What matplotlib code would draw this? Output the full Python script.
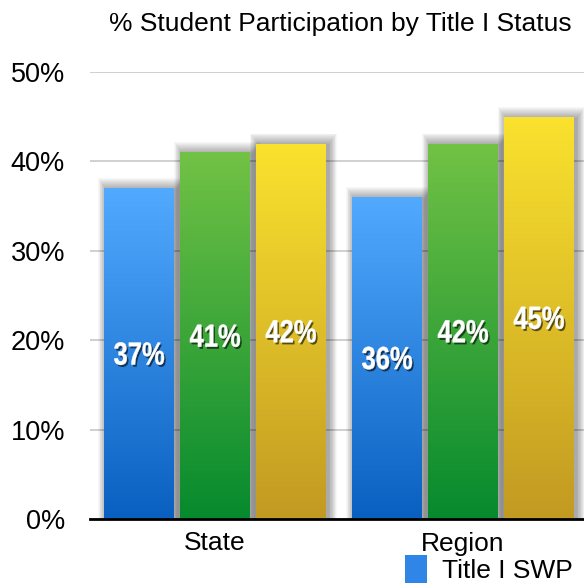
import numpy as np
import matplotlib
matplotlib.use("Agg")
import matplotlib.pyplot as plt
from matplotlib.colors import LinearSegmentedColormap
from matplotlib.patches import Rectangle, PathPatch
from matplotlib.textpath import TextPath
from matplotlib.font_manager import FontProperties
from matplotlib.transforms import Affine2D, ScaledTranslation
import matplotlib.patheffects as pe

plt.rcParams['font.family'] = ['Liberation Sans', 'DejaVu Sans']

groups = ["State", "Region"]
series = ["Title I SWP", "Title I TAS", "Non-Title I"]
values = [[37, 36], [41, 42], [42, 45]]
labels = [["37%", "36%"], ["41%", "42%"], ["42%", "45%"]]
yticks = [0, 10, 20, 30, 40, 50]
ytick_labels = ["0%", "10%", "20%", "30%", "40%", "50%"]

# top / bottom colours of the gradients
grads = [("#52aaff", "#0a60c0"), ("#72c245", "#068a2e"), ("#fae22e", "#c29a22")]

fig = plt.figure(figsize=(5.84, 5.84), dpi=100)
ax = fig.add_axes([90 / 584, 1 - 519 / 584, 1 - 90 / 584, (519 - 72) / 584])

x = np.arange(len(groups))
width = 0.282
offsets = [-0.306, 0.0, 0.306]

grad = np.linspace(1, 0, 256).reshape(-1, 1)
bars_all = []
for i in range(len(series)):
    bars = ax.bar(x + offsets[i], values[i], width, color=grads[i][1], zorder=3,
                  label=series[i], linewidth=0)
    bars_all.append(bars)
    cmap = LinearSegmentedColormap.from_list("g%d" % i, [grads[i][1], grads[i][0]])
    for b in bars:
        bx, bw, bh = b.get_x(), b.get_width(), b.get_height()
        # soft drop shadow
        for k in range(1, 13):
            dx = k * 0.7 / 248
            dy = k * 0.11
            ax.add_patch(Rectangle((bx - dx + 2.5 / 248, 0), bw + 2 * dx,
                                   bh + dy - 0.2, facecolor="black",
                                   alpha=0.03, linewidth=0, zorder=2))
        im = ax.imshow(grad, extent=[bx, bx + bw, 0, bh], aspect="auto",
                       cmap=cmap, vmin=0, vmax=1, zorder=3.5)
        im.set_clip_path(b)

ax.set_xlim(-0.504, 1.488)
ax.set_ylim(0, 50)

# condensed bold value labels
lab_font = FontProperties(family="Liberation Sans", weight="bold")
for i in range(len(series)):
    for j, b in enumerate(bars_all[i]):
        tp = TextPath((0, 0), labels[i][j], size=23, prop=lab_font)
        ext = tp.get_extents()
        cx = (ext.x0 + ext.x1) / 2
        cy = (ext.y0 + ext.y1) / 2
        tr = (Affine2D().translate(-cx, -cy).scale(0.8, 1.0).scale(fig.dpi / 72)
              + ScaledTranslation(b.get_x() + b.get_width() / 2, values[i][j] / 2,
                                  ax.transData))
        ax.add_patch(PathPatch(tp, transform=tr, facecolor="white", edgecolor="white",
                               linewidth=0.3, zorder=5,
                               path_effects=[pe.withSimplePatchShadow(offset=(1.2, -1.5),
                                                                      shadow_rgbFace="black",
                                                                      alpha=0.6)]))

ax.set_yticks(yticks)
ax.set_yticklabels(ytick_labels, fontsize=19.5)
ax.set_xticks(x)
ax.set_xticklabels(groups, fontsize=19)
ax.tick_params(axis="both", length=0)
ax.tick_params(axis="y", pad=18)
ax.tick_params(axis="x", pad=9)
ax.grid(axis="y", color="#c4c4c4", linewidth=1.1, zorder=0)
ax.set_axisbelow(True)
for s in ["top", "right", "left"]:
    ax.spines[s].set_visible(False)
ax.spines["bottom"].set_linewidth(2.0)
ax.spines["bottom"].set_color("black")
ax.spines["bottom"].set_zorder(6)

fig.text(340 / 584, 1 - 24 / 584, "% Student Participation by Title I Status",
         ha="center", va="center", fontsize=19)

leg = fig.legend([bars_all[0][0]], [series[0]], loc="upper left",
                 bbox_to_anchor=(405 / 584, 1 - 555 / 584), frameon=False,
                 fontsize=19, handlelength=0.85, handleheight=1.25,
                 handletextpad=0.55, borderpad=0, borderaxespad=0)
leg.legend_handles[0].set_facecolor("#2f86e6")

fig.savefig("out.png", dpi=100)
